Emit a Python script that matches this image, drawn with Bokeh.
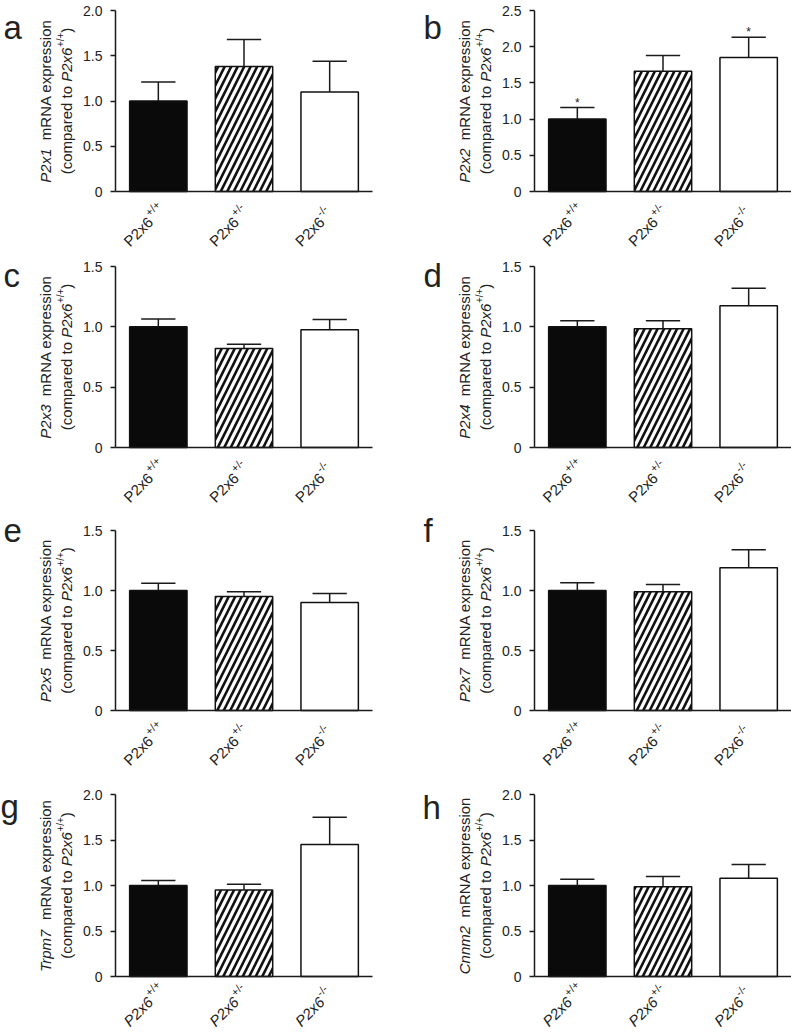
import math
from bokeh.plotting import figure
from bokeh.models import Range1d, FixedTicker, PrintfTickFormatter, ColumnDataSource, LinearAxis
from bokeh.core.properties import value
from bokeh.layouts import column, row
from bokeh.embed import file_html
from bokeh.resources import INLINE

# ---------------- data ----------------
x_pos = [1, 2, 3]
genotype = "P2x6"
genotype_sups = ["+/+", "+/-", "-/-"]
panel_letters = ["a", "b", "c", "d", "e", "f", "g", "h"]
genes = ["P2x1", "P2x2", "P2x3", "P2x4", "P2x5", "P2x7", "Trpm7", "Cnnm2"]
y_max = [2.0, 2.5, 1.5, 1.5, 1.5, 1.5, 2.0, 2.0]
italic_xlabels = [False, False, False, False, False, False, True, True]

mean_P2x1 = [1.00, 1.38, 1.10]
sem_P2x1 = [0.21, 0.30, 0.34]
mean_P2x2 = [1.00, 1.66, 1.85]
sem_P2x2 = [0.16, 0.22, 0.28]
mean_P2x3 = [1.00, 0.82, 0.975]
sem_P2x3 = [0.065, 0.035, 0.085]
mean_P2x4 = [1.00, 0.985, 1.175]
sem_P2x4 = [0.05, 0.065, 0.145]
mean_P2x5 = [1.00, 0.95, 0.90]
sem_P2x5 = [0.06, 0.04, 0.075]
mean_P2x7 = [1.00, 0.99, 1.19]
sem_P2x7 = [0.065, 0.06, 0.15]
mean_Trpm7 = [1.00, 0.95, 1.45]
sem_Trpm7 = [0.055, 0.065, 0.30]
mean_Cnnm2 = [1.00, 0.985, 1.08]
sem_Cnnm2 = [0.07, 0.115, 0.15]
stars_P2x2 = ["*", "", "*"]

means = [mean_P2x1, mean_P2x2, mean_P2x3, mean_P2x4, mean_P2x5, mean_P2x7, mean_Trpm7, mean_Cnnm2]
sems = [sem_P2x1, sem_P2x2, sem_P2x3, sem_P2x4, sem_P2x5, sem_P2x7, sem_Trpm7, sem_Cnnm2]
stars = [None, stars_P2x2, None, None, None, None, None, None]

# ---------------- layout / style ----------------
FONT = "Liberation Sans"
TXT = "#222222"
AXC = "#1a1a1a"
bar_fill = ["#0a0a0a", "#ffffff", "#ffffff"]
bar_hatch = [" ", "/", " "]
BAR_W = 0.67
CAP_HALF = 0.2

COL_W = [400, 391]          # figure widths
AXIS_PX = [115, 134]        # pixel of the y axis inside each figure
PLOT_W = 257                # pixel length of the x axis (3 category slots)
# rows: (figure height, pixel of ymax, pixel of y=0)
ROWS = [(250, 10, 191), (262, 16, 197), (265, 18, 198), (256, 17, 199)]
letter_dy = [17, 17, 9, 9, 0, 0, 12, 13]
letter_dx = [-112, -111, -112, -111, -112, -111, -115, -112]
xlab_dy = [28, 28, 28, 23]

# Arial / Liberation Sans advance widths (1/1000 em)
AW = {" ": 278, "(": 333, ")": 333, "+": 584, "-": 333, "/": 278,
      "A": 667, "C": 722, "N": 722, "P": 667, "R": 722, "T": 611,
      "a": 556, "c": 500, "d": 556, "e": 556, "i": 222, "m": 833, "n": 556,
      "o": 556, "p": 556, "r": 333, "s": 500, "t": 278, "x": 500}


def tw(s, size):
    return sum(AW.get(ch, 556) for ch in s) * size / 1000.0


def txt(p, x, y, text, xo, yo, size, angle=0.0, italic=False, align="left",
        baseline="alphabetic"):
    p.text(x=[x], y=[y], text=[text], x_offset=xo, y_offset=yo, angle=angle,
           text_font=value(FONT), text_font_size=value(f"{size}px"),
           text_font_style=value("italic" if italic else "normal"),
           text_align=value(align), text_baseline=value(baseline),
           text_color=TXT)


def make_panel(i):
    col = i % 2
    H, ptop, pzero = ROWS[i // 2]
    W = COL_W[col]
    ax_px = AXIS_PX[col]
    ym = y_max[i]
    kx = PLOT_W / 3.0
    x0 = 0.5 - ax_px / kx
    x1 = x0 + W / kx
    ky = (pzero - ptop) / ym
    y0 = -(H - pzero) / ky
    y1 = ym + ptop / ky
    p = figure(width=W, height=H, x_range=Range1d(x0, x1), y_range=Range1d(y0, y1),
               output_backend="svg", toolbar_location=None,
               x_axis_location=None, y_axis_location=None,
               min_border=0, min_border_left=0, min_border_right=0,
               min_border_top=0, min_border_bottom=0)
    p.outline_line_color = None
    p.background_fill_color = "white"
    p.grid.visible = False
    p.xgrid.grid_line_color = None
    p.ygrid.grid_line_color = None

    m = means[i]
    s = sems[i]
    tops = [a + b for a, b in zip(m, s)]
    src = ColumnDataSource(dict(x=x_pos, top=m, fill=bar_fill, hatch=bar_hatch,
                                err=tops,
                                cx0=[x - CAP_HALF for x in x_pos],
                                cx1=[x + CAP_HALF for x in x_pos]))
    p.vbar(x="x", top="top", bottom=0, width=BAR_W, source=src,
           fill_color="fill", line_color="#111111", line_width=1.5,
           hatch_pattern="hatch", hatch_color="#111111", hatch_scale=13,
           hatch_weight=2.6)
    p.segment(x0="x", y0="top", x1="x", y1="err", source=src,
              line_color=AXC, line_width=1.5)
    p.segment(x0="cx0", y0="err", x1="cx1", y1="err", source=src,
              line_color=AXC, line_width=1.5)

    # y axis drawn at x = 0.5, limited to [0, ymax]
    ticks = [k * 0.5 for k in range(int(round(ym / 0.5)) + 1)]
    yax = LinearAxis(fixed_location=0.5, bounds=(0, ym))
    yax.ticker = FixedTicker(ticks=ticks)
    yax.formatter = PrintfTickFormatter(format="%.1f")
    yax.major_label_overrides = {0: "0"}
    yax.major_tick_out = 5
    yax.major_tick_in = 0
    yax.minor_tick_line_color = None
    yax.axis_line_width = 1.5
    yax.axis_line_color = AXC
    yax.major_tick_line_color = AXC
    yax.major_tick_line_width = 1.5
    yax.major_label_standoff = 8
    yax.major_label_text_font = FONT
    yax.major_label_text_font_size = "14px"
    yax.major_label_text_color = TXT
    p.add_layout(yax, "left")

    # x axis drawn at y = 0, limited to the three slots
    xax = LinearAxis(fixed_location=0, bounds=(0.5, 3.5))
    xax.ticker = FixedTicker(ticks=[])
    xax.axis_line_width = 1.5
    xax.axis_line_color = AXC
    xax.major_tick_line_color = None
    xax.minor_tick_line_color = None
    p.add_layout(xax, "below")

    # y-axis title: two rotated lines built from parts
    a90 = math.pi / 2
    fs = 15
    ymid = ym / 2
    gene = genes[i]
    w_gene = tw(gene, fs)
    gap = 2 * tw(" ", fs)
    rest1 = "mRNA expression"
    W1 = w_gene + gap + tw(rest1, fs)
    start = -W1 / 2
    txt(p, 0.5, ymid, gene, -70, -start, fs, angle=a90, italic=True)
    txt(p, 0.5, ymid, rest1, -70, -(start + w_gene + gap), fs, angle=a90)

    sup_fs = 10
    p1, p2, p3, p4 = "(compared to ", genotype, "+/+", ")"
    W2 = tw(p1, fs) + tw(p2, fs) + tw(p3, sup_fs) + 0.5 + tw(p4, fs)
    pos = -W2 / 2
    txt(p, 0.5, ymid, p1, -49, -pos, fs, angle=a90)
    pos += tw(p1, fs)
    txt(p, 0.5, ymid, p2, -49, -pos, fs, angle=a90, italic=True)
    pos += tw(p2, fs)
    txt(p, 0.5, ymid, p3, -55, -(pos + 0.5), sup_fs, angle=a90)
    pos += tw(p3, sup_fs) + 0.5
    txt(p, 0.5, ymid, p4, -49, -pos, fs, angle=a90)

    # category labels rotated 45 deg, with superscripts
    a45 = math.pi / 4
    c45 = math.cos(a45)
    xfs = 15
    xsup = 11
    ay_o = xlab_dy[i // 2]
    for xv, sup in zip(x_pos, genotype_sups):
        ax_o = -8
        txt(p, xv, 0, genotype, ax_o, ay_o, xfs, angle=a45,
            italic=italic_xlabels[i], align="right")
        r = 7
        txt(p, xv, 0, sup, ax_o - r * c45 + 1.5, ay_o - r * c45 - 0.5, xsup,
            angle=a45, align="left")

    # significance stars
    if stars[i] is not None:
        for xv, e, st in zip(x_pos, tops, stars[i]):
            if st:
                txt(p, xv, e, st, 0, -5, 12, align="center")

    # panel letter
    txt(p, 0.5, ym, panel_letters[i], letter_dx[i], letter_dy[i], 33)
    return p


panels = [make_panel(i) for i in range(8)]
layout = column(*[row(panels[2 * r], panels[2 * r + 1]) for r in range(4)])

open("out.html", "w").write(file_html(layout, INLINE))
